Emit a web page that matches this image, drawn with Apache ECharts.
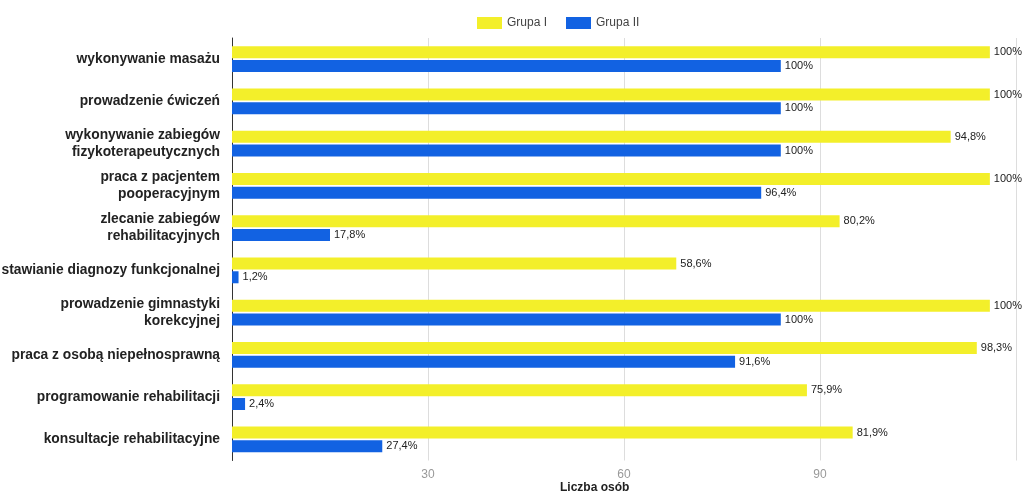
<!DOCTYPE html>
<html>
<head>
<meta charset="utf-8">
<script src="https://cdn.jsdelivr.net/npm/echarts@6/dist/echarts.min.js"></script>
<style>html,body{margin:0;padding:0;background:#fff}#c{width:1024px;height:498px}</style>
</head>
<body>
<div id="c"></div>
<script>
const categories = [
  'wykonywanie masażu',
  'prowadzenie ćwiczeń',
  'wykonywanie zabiegów\nfizykoterapeutycznych',
  'praca z pacjentem\npooperacyjnym',
  'zlecanie zabiegów\nrehabilitacyjnych',
  'stawianie diagnozy funkcjonalnej',
  'prowadzenie gimnastyki\nkorekcyjnej',
  'praca z osobą niepełnosprawną',
  'programowanie rehabilitacji',
  'konsultacje rehabilitacyjne'
];
const seriesNames = ['Grupa I', 'Grupa II'];
const grupa1Counts = [116, 116, 110, 116, 93, 68, 116, 114, 88, 95];
const grupa2Counts = [84, 84, 84, 81, 15, 1, 84, 77, 2, 23];
const grupa1Labels = ['100%', '100%', '94,8%', '100%', '80,2%', '58,6%', '100%', '98,3%', '75,9%', '81,9%'];
const grupa2Labels = ['100%', '100%', '100%', '96,4%', '17,8%', '1,2%', '100%', '91,6%', '2,4%', '27,4%'];
const xTicks = [0, 30, 60, 90, 120];
const axisTitle = 'Liczba osób';

const chart = echarts.init(document.getElementById('c'));
const font = '"Liberation Sans", Arial, sans-serif';
const labelStyle = (labels) => ({
  show: true, position: 'right', distance: 4,
  fontFamily: font, fontSize: 11, color: '#222',
  formatter: p => labels[p.dataIndex]
});
chart.setOption({
  animation: false,
  legend: {
    top: 12, left: 472, itemWidth: 25, itemHeight: 12, itemGap: 19,
    icon: 'rect',
    itemStyle: { borderWidth: 0 },
    textStyle: { fontFamily: font, fontSize: 12, color: '#444' },
    data: seriesNames
  },
  grid: { left: 232, right: 8, top: 38, bottom: 37.5, containLabel: false, outerBoundsMode: 'none' },
  xAxis: {
    type: 'value', min: xTicks[0], max: xTicks[xTicks.length - 1], interval: 30,
    axisLine: { show: false }, axisTick: { show: false },
    splitLine: { lineStyle: { color: '#dddddd' } },
    axisLabel: {
      fontFamily: font, fontSize: 12, color: '#999', margin: 8,
      formatter: v => (v === xTicks[0] || v === xTicks[xTicks.length - 1]) ? '' : String(v)
    }
  },
  yAxis: {
    type: 'category', inverse: true, data: categories,
    axisLine: { lineStyle: { color: '#333', width: 1 } },
    axisTick: { show: false },
    splitLine: { show: false },
    axisLabel: {
      fontFamily: font, fontSize: 13.8, fontWeight: 'bold', color: '#222',
      margin: 12, lineHeight: 17, align: 'right'
    }
  },
  graphic: [{
    type: 'text', left: 560, top: 482,
    style: { text: axisTitle, fontFamily: font, fontSize: 12, fontWeight: 'bold', fill: '#222' }
  }],
  series: [
    {
      name: seriesNames[0], type: 'bar', data: grupa1Counts,
      barWidth: 12, barGap: '15%',
      itemStyle: { color: '#f3ef2a' },
      label: labelStyle(grupa1Labels)
    },
    {
      name: seriesNames[1], type: 'bar', data: grupa2Counts,
      barWidth: 12, barGap: '15%',
      itemStyle: { color: '#1262e2' },
      label: labelStyle(grupa2Labels)
    }
  ]
});
</script>
</body>
</html>
